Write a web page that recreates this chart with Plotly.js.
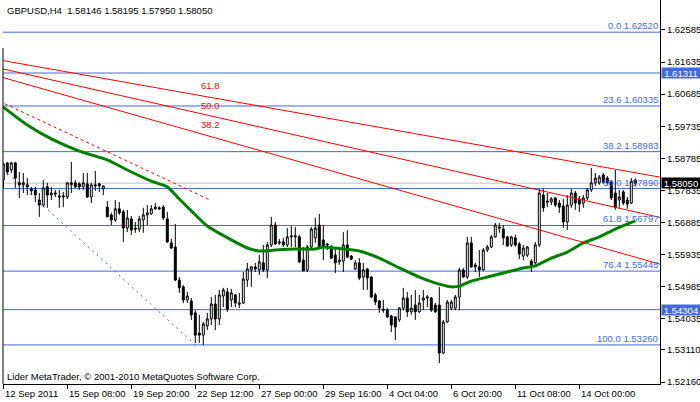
<!DOCTYPE html>
<html><head><meta charset="utf-8">
<script src="https://cdn.plot.ly/plotly-3.0.1.min.js"></script>
<style>html,body{margin:0;padding:0;background:#fff}#chart{width:700px;height:402px}</style>
</head><body><div id="chart"></div>
<script>
const symbol = "GBPUSD";
const timeframe = "H4";
const copyrightText = "Lider MetaTrader, © 2001-2010 MetaQuotes Software Corp.";

const open = [
1.5814,1.5865,1.5844,1.5865,1.5806,1.5800,1.5800,1.5788,1.5785,1.5755,
1.5740,1.5794,1.5770,1.5776,1.5767,1.5764,1.5764,1.5806,1.5806,1.5803,
1.5794,1.5803,1.5764,1.5800,1.5803,1.5788,1.5734,1.5711,1.5696,1.5729,
1.5720,1.5672,1.5699,1.5672,1.5669,1.5696,1.5711,1.5714,1.5729,1.5732,
1.5734,1.5699,1.5628,1.5616,1.5518,1.5498,1.5459,1.5456,1.5421,1.5361,
1.5355,1.5382,1.5403,1.5447,1.5403,1.5471,1.5483,1.5459,1.5474,1.5450,
1.5450,1.5518,1.5548,1.5557,1.5548,1.5569,1.5548,1.5622,1.5681,1.5631,
1.5631,1.5622,1.5649,1.5646,1.5646,1.5577,1.5548,1.5616,1.5643,1.5681,
1.5637,1.5625,1.5616,1.5592,1.5572,1.5574,1.5622,1.5589,1.5551,1.5569,
1.5527,1.5551,1.5527,1.5474,1.5456,1.5432,1.5429,1.5412,1.5409,1.5400,
1.5435,1.5465,1.5424,1.5444,1.5424,1.5459,1.5465,1.5465,1.5444,1.5444,
1.5302,1.5394,1.5435,1.5435,1.5468,1.5548,1.5527,1.5628,1.5563,1.5557,
1.5548,1.5607,1.5616,1.5646,1.5675,1.5669,1.5646,1.5622,1.5643,1.5625,
1.5589,1.5592,1.5574,1.5569,1.5622,1.5770,1.5752,1.5749,1.5761,1.5746,
1.5737,1.5690,1.5740,1.5776,1.5758,1.5746,1.5761,1.5785,1.5806,1.5806,
1.5829,1.5820,1.5808,1.5776,1.5755,1.5779,1.5755,1.5746,1.58146];
const high = [
1.5865,1.5868,1.5868,1.5868,1.5838,1.5835,1.5820,1.5794,1.5794,1.5776,
1.5814,1.5806,1.5794,1.5785,1.5785,1.5779,1.5808,1.5868,1.5814,1.5808,
1.5835,1.5835,1.5806,1.5841,1.5806,1.5797,1.5752,1.5717,1.5755,1.5749,
1.5726,1.5726,1.5708,1.5690,1.5708,1.5732,1.5740,1.5740,1.5746,1.5737,
1.5740,1.5720,1.5640,1.5684,1.5527,1.5503,1.5483,1.5465,1.5429,1.5415,
1.5394,1.5421,1.5468,1.5474,1.5489,1.5495,1.5495,1.5492,1.5477,1.5480,
1.5542,1.5569,1.5560,1.5569,1.5592,1.5622,1.5631,1.5705,1.5690,1.5640,
1.5643,1.5672,1.5678,1.5675,1.5652,1.5616,1.5622,1.5675,1.5702,1.5714,
1.5681,1.5628,1.5622,1.5613,1.5616,1.5660,1.5666,1.5592,1.5577,1.5583,
1.5569,1.5554,1.5530,1.5480,1.5459,1.5459,1.5435,1.5415,1.5412,1.5438,
1.5495,1.5483,1.5474,1.5489,1.5474,1.5489,1.5474,1.5468,1.5450,1.5498,
1.5400,1.5459,1.5459,1.5474,1.5554,1.5554,1.5646,1.5646,1.5569,1.5607,
1.5613,1.5622,1.5652,1.5687,1.5687,1.5681,1.5649,1.5649,1.5652,1.5631,
1.5622,1.5619,1.5580,1.5631,1.5788,1.5788,1.5776,1.5764,1.5764,1.5755,
1.5758,1.5770,1.5788,1.5782,1.5767,1.5770,1.5791,1.5850,1.5835,1.5829,
1.5835,1.5826,1.5814,1.5844,1.5785,1.5785,1.5764,1.5820,1.58195];
const low = [
1.5791,1.5829,1.5835,1.5791,1.5761,1.5776,1.5770,1.5770,1.5749,1.5705,
1.5734,1.5732,1.5755,1.5764,1.5732,1.5734,1.5758,1.5776,1.5791,1.5785,
1.5785,1.5761,1.5746,1.5782,1.5779,1.5770,1.5705,1.5681,1.5690,1.5711,
1.5631,1.5660,1.5652,1.5658,1.5660,1.5658,1.5681,1.5711,1.5726,1.5726,
1.5696,1.5628,1.5610,1.5515,1.5480,1.5450,1.5450,1.5400,1.5332,1.5332,
1.5326,1.5370,1.5385,1.5370,1.5385,1.5438,1.5424,1.5438,1.5438,1.5435,
1.5447,1.5498,1.5498,1.5542,1.5533,1.5542,1.5524,1.5616,1.5622,1.5622,
1.5616,1.5616,1.5616,1.5616,1.5569,1.5545,1.5542,1.5613,1.5628,1.5613,
1.5577,1.5607,1.5580,1.5539,1.5563,1.5542,1.5583,1.5577,1.5548,1.5518,
1.5489,1.5489,1.5465,1.5444,1.5421,1.5421,1.5406,1.5364,1.5341,1.5394,
1.5429,1.5409,1.5415,1.5400,1.5421,1.5429,1.5438,1.5424,1.5421,1.5272,
1.5299,1.5391,1.5429,1.5429,1.5429,1.5524,1.5521,1.5554,1.5542,1.5527,
1.5545,1.5601,1.5613,1.5643,1.5658,1.5622,1.5616,1.5616,1.5616,1.5580,
1.5577,1.5586,1.5542,1.5563,1.5616,1.5720,1.5734,1.5740,1.5734,1.5717,
1.5672,1.5666,1.5732,1.5726,1.5720,1.5732,1.5755,1.5779,1.5797,1.5800,
1.5803,1.5800,1.5755,1.5726,1.5732,1.5740,1.5729,1.5743,1.57950];
const close = [
1.5862,1.5838,1.5865,1.5820,1.5800,1.5806,1.5794,1.5782,1.5770,1.5740,
1.5791,1.5770,1.5776,1.5773,1.5764,1.5767,1.5806,1.5800,1.5794,1.5794,
1.5806,1.5764,1.5800,1.5797,1.5797,1.5797,1.5705,1.5696,1.5729,1.5717,
1.5672,1.5702,1.5666,1.5669,1.5699,1.5711,1.5717,1.5729,1.5734,1.5729,
1.5702,1.5631,1.5613,1.5518,1.5495,1.5459,1.5471,1.5415,1.5355,1.5355,
1.5388,1.5403,1.5447,1.5403,1.5474,1.5489,1.5432,1.5480,1.5450,1.5447,
1.5521,1.5551,1.5557,1.5551,1.5572,1.5548,1.5622,1.5681,1.5625,1.5628,
1.5622,1.5646,1.5646,1.5649,1.5572,1.5545,1.5616,1.5669,1.5672,1.5616,
1.5616,1.5622,1.5583,1.5569,1.5577,1.5622,1.5586,1.5580,1.5569,1.5524,
1.5548,1.5524,1.5468,1.5453,1.5435,1.5429,1.5409,1.5385,1.5379,1.5435,
1.5465,1.5424,1.5435,1.5424,1.5450,1.5465,1.5468,1.5429,1.5424,1.5302,
1.5394,1.5453,1.5453,1.5468,1.5548,1.5527,1.5628,1.5557,1.5557,1.5548,
1.5607,1.5616,1.5646,1.5681,1.5672,1.5643,1.5619,1.5646,1.5622,1.5595,
1.5613,1.5616,1.5563,1.5622,1.5776,1.5732,1.5749,1.5758,1.5740,1.5734,
1.5690,1.5740,1.5776,1.5746,1.5743,1.5761,1.5785,1.5806,1.5820,1.5823,
1.5808,1.5806,1.5761,1.5734,1.5764,1.5746,1.5743,1.5811,1.58050];

const maBars = [0,6,12,19,26,31,37,41,44,47,51,57,61,64,68,73,78,80,85,89,94,99,104,109,112,114,117,121,126,130,133,137,141,145,149,153,158];
const maValues = [1.6030,1.5977,1.5936,1.5900,1.5874,1.5844,1.5811,1.5794,1.5758,1.5723,1.5678,1.5637,1.5613,1.5604,1.5607,1.5610,1.5610,1.5616,1.5610,1.5604,1.5583,1.5554,1.5527,1.5506,1.5498,1.5500,1.5515,1.5527,1.5542,1.5554,1.5560,1.5583,1.5601,1.5628,1.5646,1.5669,1.5693];

const xTickBars = [0,16,32,48,64,80,96,112,128,144];
const xTickText = ["12 Sep 2011","15 Sep 08:00","19 Sep 20:00","22 Sep 12:00","27 Sep 00:00","29 Sep 16:00","4 Oct 04:00","6 Oct 20:00","11 Oct 08:00","14 Oct 00:00"];
const yTickVals = [1.62585,1.61635,1.60685,1.59735,1.58785,1.57835,1.56885,1.55935,1.54985,1.54035,1.53110,1.52160];

const fibLevels = [0.0,23.6,38.2,50.0,61.8,76.4,100.0];
const fibPrices = [1.62520,1.60335,1.58983,1.57890,1.56797,1.55445,1.53260];
const hLinePrices = [1.61311,1.54304];

const fanNames = ["61.8","50.0","38.2"];
const fanBars = [-1,165];
const fanStartPrices = [1.61699,1.61457,1.61208];
const fanEndPrices = [1.58211,1.57012,1.55623];
const fanLabelBar = 51.9;
const fanLabelPrices = [1.60927,1.60364,1.59772];

const redTrendBars = [-1,51.7];
const redTrendPrices = [1.60476,1.57551];
const blueTrendBars = [-1,48];
const blueTrendPrices = [1.58572,1.53260];

const last = close.length - 1;
const bars = open.map((_, i) => i);
const BLUE = "#4169E1";
const FONT = '"Liberation Sans", Arial, sans-serif';
const FS = 9.5;

const traces = [];
traces.push({
  type: "candlestick", x: bars, open: open, high: high, low: low, close: close,
  increasing: {line: {color: "#000", width: 1}, fillcolor: "#fff"},
  decreasing: {line: {color: "#000", width: 1}, fillcolor: "#000"},
  whiskerwidth: 0, hoverinfo: "skip", showlegend: false
});
traces.push({type: "scatter", mode: "lines", x: maBars, y: maValues,
  line: {color: "#008000", width: 3, shape: "spline", smoothing: 0.6}, hoverinfo: "skip"});
fanNames.forEach((n, k) => {
  traces.push({type: "scatter", mode: "lines", x: fanBars, y: [fanStartPrices[k], fanEndPrices[k]],
    line: {color: "#FF0000", width: 1}, hoverinfo: "skip"});
});
traces.push({type: "scatter", mode: "lines", x: redTrendBars, y: redTrendPrices,
  line: {color: "#FF0000", width: 1, dash: "3px,3px"}, hoverinfo: "skip"});
traces.push({type: "scatter", mode: "lines", x: blueTrendBars, y: blueTrendPrices,
  line: {color: BLUE, width: 1, dash: "2px,4px"}, hoverinfo: "skip"});

const shapes = [];
fibPrices.forEach(p => shapes.push({type: "line", xref: "paper", x0: 0, x1: 1, yref: "y", y0: p, y1: p,
  line: {color: BLUE, width: 1}, layer: "below"}));
hLinePrices.forEach(p => shapes.push({type: "line", xref: "paper", x0: 0, x1: 1, yref: "y", y0: p, y1: p,
  line: {color: BLUE, width: 1}, layer: "below"}));
shapes.push({type: "line", xref: "paper", x0: 0, x1: 1, yref: "y", y0: close[last], y1: close[last],
  line: {color: "#C0C0C0", width: 1}, layer: "below"});
shapes.push({type: "line", xref: "paper", x0: 0, x1: 0, yref: "paper", y0: 0, y1: 0.875,
  line: {color: "#000", width: 1}, layer: "above"});

const annotations = [];
fibLevels.forEach((lv, k) => annotations.push({
  text: lv.toFixed(1) + " " + fibPrices[k].toFixed(5), xref: "paper", x: 1, xanchor: "right", xshift: -1,
  yref: "y", y: fibPrices[k], yanchor: "bottom", showarrow: false, borderpad: 0,
  font: {color: BLUE, size: FS, family: FONT}}));
fanNames.forEach((n, k) => annotations.push({
  text: n, xref: "x", x: fanLabelBar, yref: "y", y: fanLabelPrices[k], xanchor: "center", yanchor: "middle",
  showarrow: false, borderpad: 0, font: {color: "#FF0000", size: FS, family: FONT}}));
hLinePrices.forEach(p => annotations.push({
  text: p.toFixed(5), xref: "paper", x: 1, xanchor: "left", xshift: 1, yref: "y", y: p, yanchor: "middle",
  showarrow: false, bgcolor: BLUE, width: 38, height: 10, borderpad: 0,
  font: {color: "#fff", size: FS, family: FONT}}));
annotations.push({
  text: close[last].toFixed(5), xref: "paper", x: 1, xanchor: "left", xshift: 1, yref: "y", y: close[last], yanchor: "middle",
  showarrow: false, bgcolor: "#000", width: 38, height: 10, borderpad: 0,
  font: {color: "#fff", size: FS, family: FONT}});
annotations.push({
  text: symbol + "," + timeframe + "  " + [open[last], high[last], low[last], close[last]].map(v => v.toFixed(5)).join(" "),
  xref: "paper", x: 0, xanchor: "left", xshift: 3, yref: "paper", y: 1, yanchor: "top", yshift: -4,
  showarrow: false, borderpad: 0, font: {color: "#000", size: FS, family: FONT}});
annotations.push({
  text: copyrightText, xref: "paper", x: 0, xanchor: "left", xshift: 3, yref: "paper", y: 0, yanchor: "bottom", yshift: 1,
  showarrow: false, borderpad: 0, font: {color: "#000", size: FS, family: FONT}});
xTickBars.forEach((b, k) => annotations.push({
  text: xTickText[k], xref: "x", x: b, xanchor: "left", xshift: 1, yref: "paper", y: 0, yanchor: "top", yshift: -3,
  showarrow: false, borderpad: 0, font: {color: "#000", size: FS, family: FONT}}));

const layout = {
  width: 700, height: 402, margin: {l: 3, r: 40, t: 0, b: 18, pad: 0},
  paper_bgcolor: "#fff", plot_bgcolor: "#fff", showlegend: false,
  font: {family: FONT, size: FS, color: "#000"},
  boxgap: 0.3,
  xaxis: {range: [-0.075, 164.175], showgrid: false, zeroline: false, showline: true, linecolor: "#000", linewidth: 1,
    ticks: "outside", ticklen: 4, tickcolor: "#000", tickvals: xTickBars, showticklabels: false,
    rangeslider: {visible: false}, fixedrange: true},
  yaxis: {side: "right", range: [1.52103, 1.63473], showgrid: false, zeroline: false, showline: true,
    linecolor: "#000", linewidth: 1, ticks: "outside", ticklen: 4, tickcolor: "#000",
    tickvals: yTickVals, ticktext: yTickVals.map(v => v.toFixed(5)), tickfont: {size: FS, family: FONT, color: "#000"},
    fixedrange: true},
  shapes: shapes, annotations: annotations
};
Plotly.newPlot("chart", traces, layout, {staticPlot: true, displayModeBar: false});
</script></body></html>
